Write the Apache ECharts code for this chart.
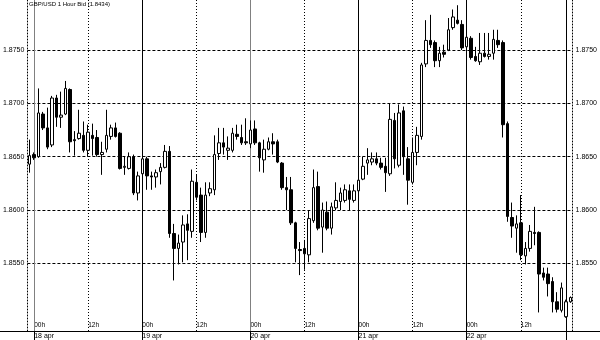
<!DOCTYPE html>
<html><head><meta charset="utf-8">
<script src="https://cdn.jsdelivr.net/npm/echarts@6/dist/echarts.min.js"></script>
<style>html,body{margin:0;padding:0;background:#fff}#c{width:600px;height:340px}</style>
</head><body><div id="c"></div>
<script>
const titleText = 'GBP/USD 1 Hour Bid (1.8434)';
const dayNames = ['17 apr','18 apr','19 apr','20 apr','21 apr','22 apr'];
const firstHour = 23;
const priceTicks = [1.8550, 1.8600, 1.8650, 1.8700, 1.8750];
const yMin = 1.84866, yMax = 1.87969;
const greySeparators = ['18 apr 00h', '20 apr 00h'];
const extraSeparators = ['22 apr 22h'];

const open = [
1.8643,1.8652,1.8650,1.8690,1.8677,1.8661,1.8705,1.8687,1.8690,1.8713,
1.8666,1.8667,1.8670,1.8656,1.8670,1.8668,1.8652,1.8657,1.8669,1.8677,
1.8672,1.8640,1.8639,1.8650,1.8616,1.8634,1.8648,1.8632,1.8631,1.8636,
1.8640,1.8655,1.8578,1.8564,1.8570,1.8587,1.8580,1.8626,1.8614,1.8579,
1.8616,1.8619,1.8653,1.8663,1.8656,1.8656,1.8671,1.8668,1.8664,1.8662,
1.8676,1.8663,1.8647,1.8657,1.8664,1.8664,1.8644,1.8621,1.8619,1.8588,
1.8563,1.8564,1.8558,1.8590,1.8622,1.8584,1.8598,1.8583,1.8602,1.8608,
1.8609,1.8618,1.8609,1.8618,1.8629,1.8644,1.8645,1.8648,1.8644,1.8641,
1.8634,1.8684,1.8642,1.8693,1.8648,1.8626,1.8654,1.8669,1.8737,1.8759,
1.8757,1.8740,1.8748,1.8750,1.8771,1.8778,1.8774,1.8753,1.8761,1.8744,
1.8739,1.8747,1.8744,1.8747,1.8759,1.8757,1.8681,1.8593,1.8583,1.8588,
1.8557,1.8564,1.8579,1.8579,1.8541,1.8540,1.8533,1.8514,1.8506,1.8500,
1.8514];
const close = [
1.8651,1.8649,1.8691,1.8677,1.8659,1.8705,1.8687,1.8689,1.8714,1.8664,
1.8665,1.8672,1.8656,1.8673,1.8667,1.8652,1.8654,1.8670,1.8677,1.8669,
1.8639,1.8641,1.8650,1.8616,1.8632,1.8648,1.8632,1.8631,1.8635,1.8640,
1.8655,1.8578,1.8564,1.8569,1.8586,1.8581,1.8627,1.8612,1.8579,1.8614,
1.8620,1.8652,1.8663,1.8659,1.8658,1.8672,1.8669,1.8663,1.8663,1.8675,
1.8663,1.8649,1.8657,1.8664,1.8662,1.8645,1.8621,1.8619,1.8588,1.8564,
1.8562,1.8559,1.8592,1.8621,1.8583,1.8600,1.8583,1.8603,1.8609,1.8616,
1.8619,1.8610,1.8618,1.8628,1.8641,1.8647,1.8648,1.8644,1.8640,1.8635,
1.8685,1.8648,1.8691,1.8650,1.8628,1.8654,1.8670,1.8736,1.8759,1.8755,
1.8740,1.8747,1.8746,1.8769,1.8781,1.8775,1.8752,1.8762,1.8743,1.8740,
1.8747,1.8744,1.8746,1.8760,1.8755,1.8680,1.8594,1.8585,1.8587,1.8558,
1.8564,1.8580,1.8578,1.8540,1.8537,1.8531,1.8514,1.8507,1.8527,1.8514,
1.8518];
const low = [
1.8635,1.8647,1.8649,1.8675,1.8657,1.8659,1.8678,1.8677,1.8689,1.8654,
1.8651,1.8666,1.8654,1.8650,1.8651,1.8650,1.8633,1.8654,1.8666,1.8668,
1.8638,1.8633,1.8638,1.8614,1.8609,1.8632,1.8619,1.8619,1.8621,1.8624,
1.8639,1.8574,1.8534,1.8549,1.8551,1.8553,1.8574,1.8609,1.8570,1.8574,
1.8613,1.8614,1.8647,1.8652,1.8647,1.8654,1.8666,1.8661,1.8661,1.8658,
1.8661,1.8636,1.8635,1.8656,1.8652,1.8644,1.8619,1.8600,1.8586,1.8551,
1.8539,1.8544,1.8551,1.8588,1.8581,1.8560,1.8581,1.8577,1.8600,1.8600,
1.8607,1.8600,1.8607,1.8616,1.8628,1.8633,1.8642,1.8642,1.8638,1.8617,
1.8632,1.8639,1.8640,1.8633,1.8605,1.8624,1.8642,1.8666,1.8734,1.8752,
1.8734,1.8734,1.8743,1.8749,1.8769,1.8774,1.8750,1.8751,1.8741,1.8739,
1.8736,1.8743,1.8741,1.8741,1.8752,1.8668,1.8589,1.8574,1.8560,1.8553,
1.8549,1.8561,1.8567,1.8504,1.8534,1.8519,1.8504,1.8504,1.8504,1.8499,
1.8513];
const high = [
1.8666,1.8654,1.8714,1.8692,1.8696,1.8707,1.8708,1.8711,1.8721,1.8714,
1.8674,1.8694,1.8683,1.8680,1.8681,1.8675,1.8664,1.8694,1.8680,1.8682,
1.8673,1.8650,1.8654,1.8652,1.8636,1.8650,1.8650,1.8636,1.8638,1.8644,
1.8661,1.8660,1.8587,1.8577,1.8595,1.8596,1.8638,1.8633,1.8621,1.8626,
1.8626,1.8670,1.8677,1.8677,1.8669,1.8677,1.8680,1.8680,1.8686,1.8684,
1.8684,1.8664,1.8666,1.8668,1.8672,1.8666,1.8645,1.8631,1.8631,1.8589,
1.8570,1.8572,1.8600,1.8638,1.8636,1.8607,1.8608,1.8607,1.8626,1.8621,
1.8624,1.8624,1.8624,1.8630,1.8650,1.8658,1.8654,1.8654,1.8649,1.8649,
1.8700,1.8691,1.8699,1.8697,1.8659,1.8668,1.8678,1.8738,1.8778,1.8783,
1.8759,1.8753,1.8755,1.8780,1.8788,1.8792,1.8778,1.8764,1.8763,1.8753,
1.8766,1.8766,1.8766,1.8769,1.8769,1.8759,1.8683,1.8607,1.8595,1.8614,
1.8570,1.8586,1.8603,1.8580,1.8546,1.8546,1.8537,1.8523,1.8532,1.8516,
1.8519];

const categories = open.map((_, i) => {
  const t = firstHour + i;
  return dayNames[Math.floor(t / 24)] + ' ' + String(t % 24).padStart(2, '0') + 'h';
});
const ohlc = open.map((o, i) => [o, close[i], low[i], high[i]]);
const isMid = c => c.endsWith(' 12h');
const isDay = c => c.endsWith(' 00h');

const FONT = 'Liberation Sans';
const hLines = priceTicks.map(v => ({yAxis: v, lineStyle: {color: '#000', width: 1, type: [3, 2]}}));
const vLines = [];
categories.filter(isMid).forEach(c => vLines.push({xAxis: c, lineStyle: {color: '#000', width: 1, type: [1, 2]}}));
categories.filter(isDay).concat(extraSeparators).forEach(c => vLines.push({
  xAxis: c, lineStyle: {color: greySeparators.includes(c) ? '#808080' : '#000', width: 1, type: 'solid'}
}));

function yAxisFor(pos) {
  return {
    type: 'value', position: pos, min: yMin, max: yMax,
    splitLine: {show: false}, minorSplitLine: {show: false}, axisTick: {show: false},
    axisLine: {show: true, lineStyle: {color: '#000', type: [1, 2], width: 1}},
    axisLabel: {customValues: priceTicks, formatter: v => v.toFixed(4), color: '#000',
                fontSize: 7, fontFamily: FONT, margin: 3}
  };
}

const chart = echarts.init(document.getElementById('c'), null, {renderer: 'canvas'});
chart.setOption({
  animation: false,
  backgroundColor: '#fff',
  title: {text: titleText, left: 29, top: 1, padding: 0,
          textStyle: {fontSize: 6, fontWeight: 'normal', color: '#000', fontFamily: FONT}},
  grid: {left: 25, right: 26, top: 0, bottom: 9, containLabel: false},
  xAxis: [{
    type: 'category', data: categories, boundaryGap: true, position: 'bottom',
    axisLine: {show: true, onZero: false, lineStyle: {color: '#000', width: 1}},
    axisTick: {show: false}, splitLine: {show: false},
    axisLabel: {inside: true, margin: 2, align: 'left', color: '#000', fontSize: 6.5, fontFamily: FONT,
                interval: (i, v) => isDay(v) || isMid(v), formatter: v => v.split(' ')[2]}
  }, {
    type: 'category', data: categories, boundaryGap: true, position: 'bottom', offset: 0,
    axisLine: {show: false, onZero: false}, splitLine: {show: false},
    axisTick: {show: true, alignWithLabel: true, length: 9, inside: false,
               interval: (i, v) => isDay(v) || extraSeparators.includes(v),
               lineStyle: {color: '#000', width: 1}},
    axisLabel: {margin: 2, align: 'left', color: '#000', fontSize: 7, fontFamily: FONT,
                interval: (i, v) => isDay(v), formatter: v => v.slice(0, 6)}
  }],
  yAxis: [yAxisFor('left'), yAxisFor('right')],
  graphic: [{type: 'line', silent: true, z: 0,
             shape: {x1: 0, y1: 331.5, x2: 600, y2: 331.5}, style: {stroke: '#000', lineWidth: 1}}],
  series: [{
    type: 'candlestick', data: ohlc, z: 3, barWidth: 3, xAxisIndex: 0, yAxisIndex: 0,
    itemStyle: {color: '#fff', color0: '#000', borderColor: '#000', borderColor0: '#000', borderWidth: 1},
    markLine: {silent: true, z: 1, precision: 4, symbol: ['none', 'none'], label: {show: false},
               animation: false, data: hLines.concat(vLines)}
  }]
});
</script></body></html>
